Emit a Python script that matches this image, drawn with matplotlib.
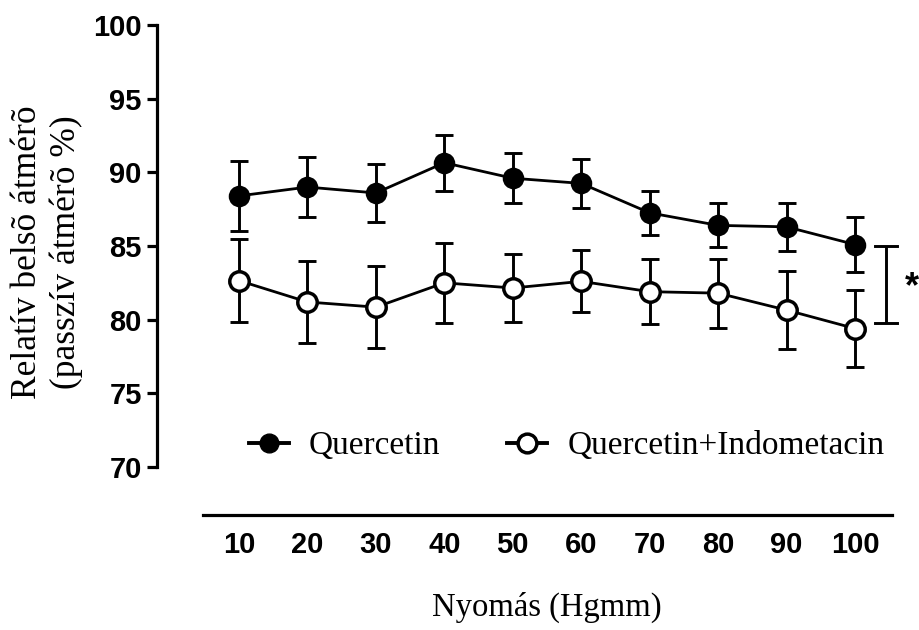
import matplotlib
matplotlib.use("Agg")
import matplotlib.pyplot as plt
from matplotlib.lines import Line2D

# Pressure steps (Hgmm) and relative inner diameter (% of passive diameter), mean ± SEM
pressure = [10, 20, 30, 40, 50, 60, 70, 80, 90, 100]
quercetin_mean = [88.4, 89.0, 88.6, 90.65, 89.6, 89.25, 87.25, 86.4, 86.3, 85.1]
quercetin_sem = [2.35, 2.05, 1.95, 1.9, 1.7, 1.65, 1.5, 1.5, 1.65, 1.85]
indo_mean = [82.65, 81.2, 80.85, 82.5, 82.15, 82.6, 81.9, 81.8, 80.65, 79.4]
indo_sem = [2.8, 2.75, 2.8, 2.7, 2.3, 2.1, 2.2, 2.35, 2.65, 2.6]
y_ticks = [70, 75, 80, 85, 90, 95, 100]
series_labels = ["Quercetin", "Quercetin+Indometacin"]
# significance bracket between the two curves
sig_low, sig_high = 79.8, 85.0

W, H = 920, 630
fig = plt.figure(figsize=(W / 100, H / 100), dpi=100)
ax = fig.add_axes([157 / W, (H - 515) / H, (W - 157) / W, (515 - 25) / H])

px_per_unit = (855 - 239) / 90.0
x_left = 10 - (239 - 157) / px_per_unit
x_right = 10 + (W - 239) / px_per_unit
y_per_px = 30.0 / (467 - 25)
ax.set_xlim(x_left, x_right)
ax.set_ylim(100 - (515 - 25) * y_per_px, 100)

lw = 2.1
# error bars first, then lines with markers on top
ax.errorbar(pressure, quercetin_mean, yerr=quercetin_sem, fmt="none", ecolor="black",
            elinewidth=lw, capsize=6.5, capthick=lw, zorder=2)
ax.errorbar(pressure, indo_mean, yerr=indo_sem, fmt="none", ecolor="black",
            elinewidth=lw, capsize=6.5, capthick=lw, zorder=2)
h1, = ax.plot(pressure, quercetin_mean, color="black", lw=2.0, marker="o", ms=14,
              mfc="black", mec="black", mew=1.5, zorder=3)
h2, = ax.plot(pressure, indo_mean, color="black", lw=2.0, marker="o", ms=14,
              mfc="white", mec="black", mew=2.5, zorder=3)

# bracket with asterisk
bx = 10 + (886 - 239) / px_per_unit
cap = 11 / px_per_unit
ax.plot([bx, bx], [sig_low, sig_high], color="black", lw=2.1, solid_capstyle="butt")
ax.plot([bx - cap, bx + cap], [sig_high, sig_high], color="black", lw=2.1)
ax.plot([bx - cap, bx + cap], [sig_low, sig_low], color="black", lw=2.1)
ax.text(10 + (912 - 239) / px_per_unit, 100 - (288 - 25) * y_per_px, "*", ha="center",
        va="center", fontsize=26, fontweight="bold", family="Liberation Sans")

# axes styling
for s in ("top", "right"):
    ax.spines[s].set_visible(False)
ax.spines["left"].set_linewidth(2.3)
ax.spines["bottom"].set_linewidth(2.3)
ax.spines["left"].set_bounds(70, 100)
ax.spines["bottom"].set_bounds(10 - (239 - 203) / px_per_unit, 10 + (892 - 239) / px_per_unit)

ax.set_yticks(y_ticks)
ax.set_yticklabels([str(v) for v in y_ticks], fontsize=21, fontweight="bold",
                   family="Liberation Sans")
ax.tick_params(axis="y", length=7.5, width=2.3, pad=3.5)
ax.set_xticks(pressure)
ax.set_xticklabels([str(v) for v in pressure], fontsize=21, fontweight="bold",
                   family="Liberation Sans")
ax.tick_params(axis="x", length=0, pad=11.5)

fig.text(547 / W, 1 - 607 / H, "Nyomás (Hgmm)", ha="center", va="center",
         fontsize=23.5, family="Liberation Serif")
fig.text(47 / W, 1 - 252 / H, "Relatív belsõ átmérõ\n(passzív átmérõ %)", rotation=90,
         ha="center", va="center", multialignment="center", fontsize=25.5,
         family="Liberation Serif", linespacing=1.2)

lh1 = Line2D([], [], color="black", lw=2.8, marker="o", ms=13.5, mfc="black", mec="black")
lh2 = Line2D([], [], color="black", lw=2.8, marker="o", ms=13.5, mfc="white", mec="black", mew=2.5)
fig.legend([lh1, lh2], series_labels, loc="center left",
           bbox_to_anchor=(249 / W, 1 - 446 / H), ncol=2, frameon=False,
           prop={"family": "Liberation Serif", "size": 24}, handlelength=1.2,
           handletextpad=0.6, columnspacing=2.0, borderpad=0, borderaxespad=0)

fig.savefig("out.png", dpi=100)
